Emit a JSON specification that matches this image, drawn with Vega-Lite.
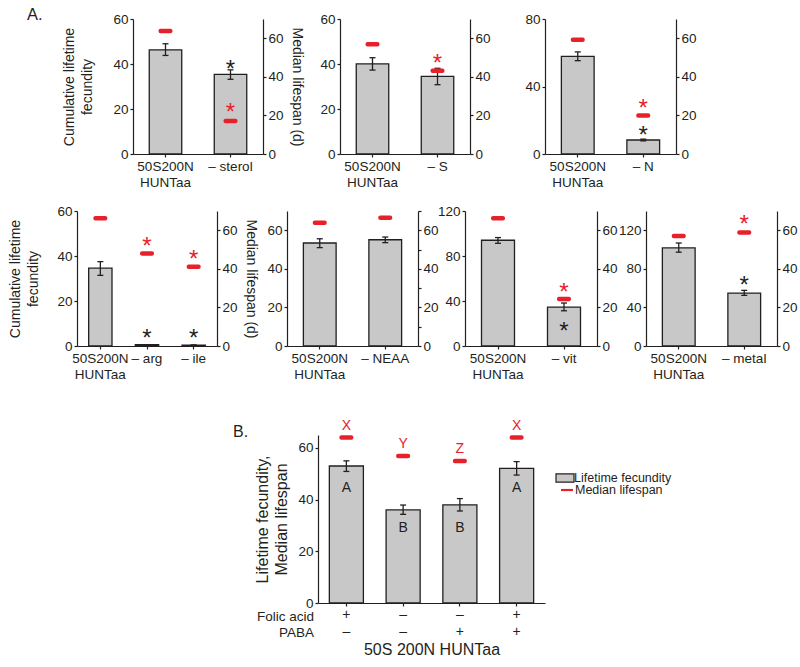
{
 "$schema": "https://vega.github.io/schema/vega-lite/v6.json",
 "background": "white",
 "padding": {"left": 8, "top": 6, "right": 2, "bottom": 2},
 "spacing": 0,
 "resolve": {"scale": {"fill": "independent", "color": "independent"}, "legend": {"fill": "independent", "color": "independent"}},
 "config": {
  "view": {"stroke": null},
  "font": "Liberation Sans",
  "axis": {"grid": false, "domainColor": "#231f20", "tickColor": "#231f20", "labelColor": "#231f20", "titleColor": "#231f20", "labelFontSize": 13.5, "titleFontSize": 14, "titleFontWeight": "normal", "tickSize": 3, "labelPadding": 2, "domainWidth": 1.2, "tickWidth": 1.2, "labelOverlap": false},
  "tick": {"opacity": 1},
  "legend": {"labelFontSize": 12.5, "labelColor": "#231f20"}
 },
 "vconcat": [
  {"hconcat": [
   {"width": 56, "height": 185, "data": {"values": [{}]}, "mark": {"type": "point", "opacity": 0},
    "title": {"text": "A.", "anchor": "start", "frame": "group", "fontSize": 16.5, "fontWeight": "normal", "color": "#231f20", "baseline": "alphabetic", "offset": 0, "dx": -50, "dy": 17}},
   {
    "width": 130, "height": 135,
    "data": {"values": [
     {"c": "50S200N|HUNTaa", "fec": 46.3, "lo": 43.8, "hi": 49.0, "med": 63.8},
     {"c": "– sterol", "fec": 35.4, "lo": 33.2, "hi": 37.4, "med": 17.1, "bstar": 40.2, "rstar": 24.5}
    ]},
    "layer": [
     {"layer": [
      {"mark": {"type": "bar", "fill": "#c8c8c8", "stroke": "#231f20", "strokeWidth": 1.3},
       "encoding": {
        "x": {"field": "c", "type": "nominal", "sort": null, "scale": {"paddingInner": 0.5, "paddingOuter": 0.25}, "axis": {"title": null, "labelAngle": 0, "labelExpr": "split(datum.label, '|')", "labelLineHeight": 16, "labelPadding": 2, "labelBaseline": "top"}},
        "y": {"field": "fec", "type": "quantitative", "scale": {"domain": [0, 60], "nice": false}, "axis": {"values": [0, 10, 20, 30, 40, 50, 60], "labelExpr": "datum.value % 20 === 0 ? datum.label : ''", "title": ["Cumulative lifetime", "fecundity"], "titlePadding": 18, "titleLineHeight": 18}}
       }},
      {"mark": {"type": "rule", "color": "#231f20", "strokeWidth": 1.3},
       "encoding": {"x": {"field": "c", "type": "nominal", "sort": null}, "y": {"field": "lo", "type": "quantitative"}, "y2": {"field": "hi"}}},
      {"transform": [{"fold": ["lo", "hi"], "as": ["k", "v"]}],
       "mark": {"type": "tick", "color": "#231f20", "thickness": 1.3, "size": 6, "opacity": 1},
       "encoding": {"x": {"field": "c", "type": "nominal", "sort": null}, "y": {"field": "v", "type": "quantitative"}}},
      {"transform": [{"filter": "isValid(datum.bstar)"}],
       "mark": {"type": "text", "text": "*", "fontSize": 24, "baseline": "alphabetic", "dy": 13, "color": "#231f20"},
       "encoding": {"x": {"field": "c", "type": "nominal", "sort": null}, "y": {"field": "bstar", "type": "quantitative"}}}
     ]},
     {"layer": [
      {"mark": {"type": "tick", "color": "#e8202a", "thickness": 4.5, "size": 14, "cornerRadius": 2, "opacity": 1},
       "encoding": {"x": {"field": "c", "type": "nominal", "sort": null},
        "y": {"field": "med", "type": "quantitative", "scale": {"domain": [0, 70], "nice": false}, "axis": {"orient": "right", "values": [0, 10, 20, 30, 40, 50, 60, 70], "labelExpr": "datum.value % 20 === 0 ? datum.label : ''", "title": "Median lifespan (d)", "titlePadding": 6}}}},
      {"transform": [{"filter": "isValid(datum.rstar)"}],
       "mark": {"type": "text", "text": "*", "fontSize": 24, "baseline": "alphabetic", "dy": 13, "color": "#e8202a"},
       "encoding": {"x": {"field": "c", "type": "nominal", "sort": null}, "y": {"field": "rstar", "type": "quantitative"}}}
     ]}
    ],
    "resolve": {"scale": {"y": "independent"}}
   },
   {"width": 77, "height": 1, "data": {"values": [{}]}, "mark": {"type": "point", "opacity": 0}},
   {
    "width": 130, "height": 135,
    "data": {"values": [
     {"c": "50S200N|HUNTaa", "fec": 40.1, "lo": 37.3, "hi": 42.8, "med": 56.9},
     {"c": "– S", "fec": 34.5, "lo": 30.8, "hi": 38.1, "med": 43.2, "rstar": 49.7}
    ]},
    "layer": [
     {"layer": [
      {"mark": {"type": "bar", "fill": "#c8c8c8", "stroke": "#231f20", "strokeWidth": 1.3},
       "encoding": {
        "x": {"field": "c", "type": "nominal", "sort": null, "scale": {"paddingInner": 0.5, "paddingOuter": 0.25}, "axis": {"title": null, "labelAngle": 0, "labelExpr": "split(datum.label, '|')", "labelLineHeight": 16, "labelPadding": 2, "labelBaseline": "top"}},
        "y": {"field": "fec", "type": "quantitative", "scale": {"domain": [0, 60], "nice": false}, "axis": {"values": [0, 10, 20, 30, 40, 50, 60], "labelExpr": "datum.value % 20 === 0 ? datum.label : ''", "title": null}}
       }},
      {"mark": {"type": "rule", "color": "#231f20", "strokeWidth": 1.3},
       "encoding": {"x": {"field": "c", "type": "nominal", "sort": null}, "y": {"field": "lo", "type": "quantitative"}, "y2": {"field": "hi"}}},
      {"transform": [{"fold": ["lo", "hi"], "as": ["k", "v"]}],
       "mark": {"type": "tick", "color": "#231f20", "thickness": 1.3, "size": 6, "opacity": 1},
       "encoding": {"x": {"field": "c", "type": "nominal", "sort": null}, "y": {"field": "v", "type": "quantitative"}}}
     ]},
     {"layer": [
      {"mark": {"type": "tick", "color": "#e8202a", "thickness": 4.5, "size": 14, "cornerRadius": 2, "opacity": 1},
       "encoding": {"x": {"field": "c", "type": "nominal", "sort": null},
        "y": {"field": "med", "type": "quantitative", "scale": {"domain": [0, 70], "nice": false}, "axis": {"orient": "right", "values": [0, 10, 20, 30, 40, 50, 60, 70], "labelExpr": "datum.value % 20 === 0 ? datum.label : ''", "title": null}}}},
      {"transform": [{"filter": "isValid(datum.rstar)"}],
       "mark": {"type": "text", "text": "*", "fontSize": 24, "baseline": "alphabetic", "dy": 13, "color": "#e8202a"},
       "encoding": {"x": {"field": "c", "type": "nominal", "sort": null}, "y": {"field": "rstar", "type": "quantitative"}}}
     ]}
    ],
    "resolve": {"scale": {"y": "independent"}}
   },
   {"width": 75, "height": 1, "data": {"values": [{}]}, "mark": {"type": "point", "opacity": 0}},
   {
    "width": 131, "height": 135,
    "data": {"values": [
     {"c": "50S200N|HUNTaa", "fec": 57.9, "lo": 55.3, "hi": 60.5, "med": 59.3},
     {"c": "– N", "fec": 8.3, "lo": 7.8, "hi": 8.8, "med": 20.0, "bstar": 14.4, "rstar": 26.4}
    ]},
    "layer": [
     {"layer": [
      {"mark": {"type": "bar", "fill": "#c8c8c8", "stroke": "#231f20", "strokeWidth": 1.3},
       "encoding": {
        "x": {"field": "c", "type": "nominal", "sort": null, "scale": {"paddingInner": 0.5, "paddingOuter": 0.25}, "axis": {"title": null, "labelAngle": 0, "labelExpr": "split(datum.label, '|')", "labelLineHeight": 16, "labelPadding": 2, "labelBaseline": "top"}},
        "y": {"field": "fec", "type": "quantitative", "scale": {"domain": [0, 80], "nice": false}, "axis": {"values": [0, 10, 20, 30, 40, 50, 60, 70, 80], "labelExpr": "datum.value % 20 === 0 ? datum.label : ''", "title": null}}
       }},
      {"mark": {"type": "rule", "color": "#231f20", "strokeWidth": 1.3},
       "encoding": {"x": {"field": "c", "type": "nominal", "sort": null}, "y": {"field": "lo", "type": "quantitative"}, "y2": {"field": "hi"}}},
      {"transform": [{"fold": ["lo", "hi"], "as": ["k", "v"]}],
       "mark": {"type": "tick", "color": "#231f20", "thickness": 1.3, "size": 6, "opacity": 1},
       "encoding": {"x": {"field": "c", "type": "nominal", "sort": null}, "y": {"field": "v", "type": "quantitative"}}},
      {"transform": [{"filter": "isValid(datum.bstar)"}],
       "mark": {"type": "text", "text": "*", "fontSize": 24, "baseline": "alphabetic", "dy": 13, "color": "#231f20"},
       "encoding": {"x": {"field": "c", "type": "nominal", "sort": null}, "y": {"field": "bstar", "type": "quantitative"}}}
     ]},
     {"layer": [
      {"mark": {"type": "tick", "color": "#e8202a", "thickness": 4.5, "size": 14, "cornerRadius": 2, "opacity": 1},
       "encoding": {"x": {"field": "c", "type": "nominal", "sort": null},
        "y": {"field": "med", "type": "quantitative", "scale": {"domain": [0, 70], "nice": false}, "axis": {"orient": "right", "values": [0, 10, 20, 30, 40, 50, 60, 70], "labelExpr": "datum.value % 20 === 0 ? datum.label : ''", "title": null}}}},
      {"transform": [{"filter": "isValid(datum.rstar)"}],
       "mark": {"type": "text", "text": "*", "fontSize": 24, "baseline": "alphabetic", "dy": 13, "color": "#e8202a"},
       "encoding": {"x": {"field": "c", "type": "nominal", "sort": null}, "y": {"field": "rstar", "type": "quantitative"}}}
     ]}
    ],
    "resolve": {"scale": {"y": "independent"}}
   }
  ], "spacing": 0, "bounds": "flush"},

  {"hconcat": [
   {
    "width": 140, "height": 135,
    "data": {"values": [
     {"c": "50S200N|HUNTaa", "fec": 34.6, "lo": 31.4, "hi": 37.5, "med": 66.2},
     {"c": "– arg", "fec": 0.6, "lo": 0.6, "hi": 0.6, "med": 48.0, "bstar": 5.9, "rstar": 54.6},
     {"c": "– ile", "fec": 0.4, "lo": 0.4, "hi": 0.4, "med": 41.1, "bstar": 5.9, "rstar": 47.5}
    ]},
    "layer": [
     {"layer": [
      {"mark": {"type": "bar", "fill": "#c8c8c8", "stroke": "#231f20", "strokeWidth": 1.3},
       "encoding": {
        "x": {"field": "c", "type": "nominal", "sort": null, "scale": {"paddingInner": 0.5, "paddingOuter": 0.25}, "axis": {"title": null, "labelAngle": 0, "labelExpr": "split(datum.label, '|')", "labelLineHeight": 16, "labelPadding": 2, "labelBaseline": "top"}},
        "y": {"field": "fec", "type": "quantitative", "scale": {"domain": [0, 60], "nice": false}, "axis": {"values": [0, 10, 20, 30, 40, 50, 60], "labelExpr": "datum.value % 20 === 0 ? datum.label : ''", "title": ["Cumulative lifetime", "fecundity"], "titlePadding": 16, "titleLineHeight": 18}}
       }},
      {"mark": {"type": "rule", "color": "#231f20", "strokeWidth": 1.3},
       "encoding": {"x": {"field": "c", "type": "nominal", "sort": null}, "y": {"field": "lo", "type": "quantitative"}, "y2": {"field": "hi"}}},
      {"transform": [{"fold": ["lo", "hi"], "as": ["k", "v"]}],
       "mark": {"type": "tick", "color": "#231f20", "thickness": 1.3, "size": 6, "opacity": 1},
       "encoding": {"x": {"field": "c", "type": "nominal", "sort": null}, "y": {"field": "v", "type": "quantitative"}}},
      {"transform": [{"filter": "isValid(datum.bstar)"}],
       "mark": {"type": "text", "text": "*", "fontSize": 24, "baseline": "alphabetic", "dy": 13, "color": "#231f20"},
       "encoding": {"x": {"field": "c", "type": "nominal", "sort": null}, "y": {"field": "bstar", "type": "quantitative"}}}
     ]},
     {"layer": [
      {"mark": {"type": "tick", "color": "#e8202a", "thickness": 4.5, "size": 14, "cornerRadius": 2, "opacity": 1},
       "encoding": {"x": {"field": "c", "type": "nominal", "sort": null},
        "y": {"field": "med", "type": "quantitative", "scale": {"domain": [0, 70], "nice": false}, "axis": {"orient": "right", "values": [0, 10, 20, 30, 40, 50, 60, 70], "labelExpr": "datum.value % 20 === 0 ? datum.label : ''", "title": "Median lifespan (d)", "titlePadding": 6}}}},
      {"transform": [{"filter": "isValid(datum.rstar)"}],
       "mark": {"type": "text", "text": "*", "fontSize": 24, "baseline": "alphabetic", "dy": 13, "color": "#e8202a"},
       "encoding": {"x": {"field": "c", "type": "nominal", "sort": null}, "y": {"field": "rstar", "type": "quantitative"}}}
     ]}
    ],
    "resolve": {"scale": {"y": "independent"}}
   },
   {"width": 70, "height": 207, "data": {"values": [{}]}, "mark": {"type": "point", "opacity": 0}},
   {
    "width": 131, "height": 135,
    "data": {"values": [
     {"c": "50S200N|HUNTaa", "fec": 53.4, "lo": 51.0, "hi": 55.6, "med": 63.9},
     {"c": "– NEAA", "fec": 55.1, "lo": 53.6, "hi": 56.5, "med": 66.5}
    ]},
    "layer": [
     {"layer": [
      {"mark": {"type": "bar", "fill": "#c8c8c8", "stroke": "#231f20", "strokeWidth": 1.3},
       "encoding": {
        "x": {"field": "c", "type": "nominal", "sort": null, "scale": {"paddingInner": 0.5, "paddingOuter": 0.25}, "axis": {"title": null, "labelAngle": 0, "labelExpr": "split(datum.label, '|')", "labelLineHeight": 16, "labelPadding": 2, "labelBaseline": "top"}},
        "y": {"field": "fec", "type": "quantitative", "scale": {"domain": [0, 70], "nice": false}, "axis": {"values": [0, 10, 20, 30, 40, 50, 60, 70], "labelExpr": "datum.value % 20 === 0 ? datum.label : ''", "title": null}}
       }},
      {"mark": {"type": "rule", "color": "#231f20", "strokeWidth": 1.3},
       "encoding": {"x": {"field": "c", "type": "nominal", "sort": null}, "y": {"field": "lo", "type": "quantitative"}, "y2": {"field": "hi"}}},
      {"transform": [{"fold": ["lo", "hi"], "as": ["k", "v"]}],
       "mark": {"type": "tick", "color": "#231f20", "thickness": 1.3, "size": 6, "opacity": 1},
       "encoding": {"x": {"field": "c", "type": "nominal", "sort": null}, "y": {"field": "v", "type": "quantitative"}}}
     ]},
     {"layer": [
      {"mark": {"type": "tick", "color": "#e8202a", "thickness": 4.5, "size": 14, "cornerRadius": 2, "opacity": 1},
       "encoding": {"x": {"field": "c", "type": "nominal", "sort": null},
        "y": {"field": "med", "type": "quantitative", "scale": {"domain": [0, 70], "nice": false}, "axis": {"orient": "right", "values": [0, 10, 20, 30, 40, 50, 60, 70], "labelExpr": "datum.value % 20 === 0 ? datum.label : ''", "title": null}}}}
     ]}
    ],
    "resolve": {"scale": {"y": "independent"}}
   },
   {"width": 47, "height": 1, "data": {"values": [{}]}, "mark": {"type": "point", "opacity": 0}},
   {
    "width": 132, "height": 135,
    "data": {"values": [
     {"c": "50S200N|HUNTaa", "fec": 94.0, "lo": 91.3, "hi": 96.4, "med": 66.2},
     {"c": "– vit", "fec": 34.6, "lo": 31.3, "hi": 38.2, "med": 24.4, "bstar": 17.9, "rstar": 30.7}
    ]},
    "layer": [
     {"layer": [
      {"mark": {"type": "bar", "fill": "#c8c8c8", "stroke": "#231f20", "strokeWidth": 1.3},
       "encoding": {
        "x": {"field": "c", "type": "nominal", "sort": null, "scale": {"paddingInner": 0.5, "paddingOuter": 0.25}, "axis": {"title": null, "labelAngle": 0, "labelExpr": "split(datum.label, '|')", "labelLineHeight": 16, "labelPadding": 2, "labelBaseline": "top"}},
        "y": {"field": "fec", "type": "quantitative", "scale": {"domain": [0, 120], "nice": false}, "axis": {"values": [0, 20, 40, 60, 80, 100, 120], "labelExpr": "datum.value % 40 === 0 ? datum.label : ''", "title": null}}
       }},
      {"mark": {"type": "rule", "color": "#231f20", "strokeWidth": 1.3},
       "encoding": {"x": {"field": "c", "type": "nominal", "sort": null}, "y": {"field": "lo", "type": "quantitative"}, "y2": {"field": "hi"}}},
      {"transform": [{"fold": ["lo", "hi"], "as": ["k", "v"]}],
       "mark": {"type": "tick", "color": "#231f20", "thickness": 1.3, "size": 6, "opacity": 1},
       "encoding": {"x": {"field": "c", "type": "nominal", "sort": null}, "y": {"field": "v", "type": "quantitative"}}},
      {"transform": [{"filter": "isValid(datum.bstar)"}],
       "mark": {"type": "text", "text": "*", "fontSize": 24, "baseline": "alphabetic", "dy": 13, "color": "#231f20"},
       "encoding": {"x": {"field": "c", "type": "nominal", "sort": null}, "y": {"field": "bstar", "type": "quantitative"}}}
     ]},
     {"layer": [
      {"mark": {"type": "tick", "color": "#e8202a", "thickness": 4.5, "size": 14, "cornerRadius": 2, "opacity": 1},
       "encoding": {"x": {"field": "c", "type": "nominal", "sort": null},
        "y": {"field": "med", "type": "quantitative", "scale": {"domain": [0, 70], "nice": false}, "axis": {"orient": "right", "values": [0, 10, 20, 30, 40, 50, 60, 70], "labelExpr": "datum.value % 20 === 0 ? datum.label : ''", "title": null}}}},
      {"transform": [{"filter": "isValid(datum.rstar)"}],
       "mark": {"type": "text", "text": "*", "fontSize": 24, "baseline": "alphabetic", "dy": 13, "color": "#e8202a"},
       "encoding": {"x": {"field": "c", "type": "nominal", "sort": null}, "y": {"field": "rstar", "type": "quantitative"}}}
     ]}
    ],
    "resolve": {"scale": {"y": "independent"}}
   },
   {"width": 49, "height": 1, "data": {"values": [{}]}, "mark": {"type": "point", "opacity": 0}},
   {
    "width": 131, "height": 135,
    "data": {"values": [
     {"c": "50S200N|HUNTaa", "fec": 101.8, "lo": 97.3, "hi": 106.8, "med": 57.1},
     {"c": "– metal", "fec": 54.9, "lo": 52.5, "hi": 57.7, "med": 58.9, "bstar": 68.2, "rstar": 65.7}
    ]},
    "layer": [
     {"layer": [
      {"mark": {"type": "bar", "fill": "#c8c8c8", "stroke": "#231f20", "strokeWidth": 1.3},
       "encoding": {
        "x": {"field": "c", "type": "nominal", "sort": null, "scale": {"paddingInner": 0.5, "paddingOuter": 0.25}, "axis": {"title": null, "labelAngle": 0, "labelExpr": "split(datum.label, '|')", "labelLineHeight": 16, "labelPadding": 2, "labelBaseline": "top"}},
        "y": {"field": "fec", "type": "quantitative", "scale": {"domain": [0, 140], "nice": false}, "axis": {"values": [0, 20, 40, 60, 80, 100, 120, 140], "labelExpr": "datum.value % 40 === 0 ? datum.label : ''", "title": null}}
       }},
      {"mark": {"type": "rule", "color": "#231f20", "strokeWidth": 1.3},
       "encoding": {"x": {"field": "c", "type": "nominal", "sort": null}, "y": {"field": "lo", "type": "quantitative"}, "y2": {"field": "hi"}}},
      {"transform": [{"fold": ["lo", "hi"], "as": ["k", "v"]}],
       "mark": {"type": "tick", "color": "#231f20", "thickness": 1.3, "size": 6, "opacity": 1},
       "encoding": {"x": {"field": "c", "type": "nominal", "sort": null}, "y": {"field": "v", "type": "quantitative"}}},
      {"transform": [{"filter": "isValid(datum.bstar)"}],
       "mark": {"type": "text", "text": "*", "fontSize": 24, "baseline": "alphabetic", "dy": 13, "color": "#231f20"},
       "encoding": {"x": {"field": "c", "type": "nominal", "sort": null}, "y": {"field": "bstar", "type": "quantitative"}}}
     ]},
     {"layer": [
      {"mark": {"type": "tick", "color": "#e8202a", "thickness": 4.5, "size": 14, "cornerRadius": 2, "opacity": 1},
       "encoding": {"x": {"field": "c", "type": "nominal", "sort": null},
        "y": {"field": "med", "type": "quantitative", "scale": {"domain": [0, 70], "nice": false}, "axis": {"orient": "right", "values": [0, 10, 20, 30, 40, 50, 60, 70], "labelExpr": "datum.value % 20 === 0 ? datum.label : ''", "title": null}}}},
      {"transform": [{"filter": "isValid(datum.rstar)"}],
       "mark": {"type": "text", "text": "*", "fontSize": 24, "baseline": "alphabetic", "dy": 13, "color": "#e8202a"},
       "encoding": {"x": {"field": "c", "type": "nominal", "sort": null}, "y": {"field": "rstar", "type": "quantitative"}}}
     ]}
    ],
    "resolve": {"scale": {"y": "independent"}}
   }
  ], "spacing": 0, "bounds": "flush"},

  {"hconcat": [
   {"width": 156, "height": 168, "data": {"values": [{}]}, "mark": {"type": "point", "opacity": 0},
    "title": {"text": ["Folic acid", "PABA"], "orient": "bottom", "anchor": "end", "frame": "group", "align": "right", "fontSize": 13.5, "fontWeight": "normal", "color": "#231f20", "baseline": "top", "lineHeight": 16.6, "offset": 0, "dx": 81, "dy": 6.5}},
   {"width": 85, "height": 1, "data": {"values": [{}]}, "mark": {"type": "point", "opacity": 0},
    "title": {"text": "B.", "anchor": "start", "frame": "group", "fontSize": 16, "fontWeight": "normal", "color": "#231f20", "baseline": "alphabetic", "offset": 0, "dx": 0, "dy": 20}},
   {
    "width": 227, "height": 168,
    "data": {"values": [
     {"c": "+|–", "fec": 53.0, "lo": 50.9, "hi": 55.0, "med": 64.0, "g": "A", "gy": 44.6, "m": "X"},
     {"c": "–|–", "fec": 36.0, "lo": 34.3, "hi": 37.9, "med": 56.9, "g": "B", "gy": 29.0, "m": "Y"},
     {"c": "–|+", "fec": 38.0, "lo": 35.6, "hi": 40.4, "med": 54.9, "g": "B", "gy": 29.0, "m": "Z"},
     {"c": "+|+", "fec": 52.1, "lo": 49.5, "hi": 54.7, "med": 64.0, "g": "A", "gy": 44.6, "m": "X"}
    ]},
    "layer": [
     {"layer": [
      {"mark": {"type": "bar", "stroke": "#231f20", "strokeWidth": 1.3},
       "encoding": {
        "x": {"field": "c", "type": "nominal", "sort": null, "scale": {"paddingInner": 0.4, "paddingOuter": 0.2}, "axis": {"title": "50S 200N HUNTaa", "titleFontSize": 16, "titlePadding": 3, "labelExpr": "split(datum.label, '|')", "labelAngle": 0, "labelFontSize": 14, "labelLineHeight": 16.6, "labelPadding": 1.5, "labelBaseline": "top"}},
        "y": {"field": "fec", "type": "quantitative", "scale": {"domain": [0, 65], "nice": false}, "axis": {"values": [0, 10, 20, 30, 40, 50, 60], "labelExpr": "datum.value % 10 === 0 ? datum.label : ''", "title": ["Lifetime fecundity,", "Median lifespan"], "titleFontSize": 16, "titleLineHeight": 19, "titlePadding": 8, "labelOverlap": false, "labelBound": false, "labelSeparation": -30}},
        "fill": {"datum": "Lifetime fecundity", "type": "nominal", "scale": {"range": ["#c8c8c8"]}, "legend": {"title": null, "orient": "none", "legendX": 237, "legendY": 33, "symbolType": "M-1,-0.45H1V0.45H-1Z", "symbolSize": 324, "symbolStrokeColor": "#231f20", "symbolStrokeWidth": 1.2, "labelOffset": -1, "padding": 0}}
       }},
      {"mark": {"type": "rule", "color": "#231f20", "strokeWidth": 1.3},
       "encoding": {"x": {"field": "c", "type": "nominal", "sort": null}, "y": {"field": "lo", "type": "quantitative"}, "y2": {"field": "hi"}}},
      {"transform": [{"fold": ["lo", "hi"], "as": ["k", "v"]}],
       "mark": {"type": "tick", "color": "#231f20", "thickness": 1.3, "size": 6, "opacity": 1},
       "encoding": {"x": {"field": "c", "type": "nominal", "sort": null}, "y": {"field": "v", "type": "quantitative"}}},
      {"mark": {"type": "text", "baseline": "middle", "fontSize": 14, "color": "#231f20"},
       "encoding": {"x": {"field": "c", "type": "nominal", "sort": null}, "y": {"field": "gy", "type": "quantitative"}, "text": {"field": "g"}}}
     ]},
     {"layer": [
      {"mark": {"type": "tick", "thickness": 4.5, "size": 14, "cornerRadius": 2, "opacity": 1},
       "encoding": {"x": {"field": "c", "type": "nominal", "sort": null},
        "y": {"field": "med", "type": "quantitative", "scale": {"domain": [0, 65], "nice": false}, "axis": null},
        "color": {"datum": "Median lifespan", "type": "nominal", "scale": {"range": ["#e8202a"]}, "legend": {"title": null, "orient": "none", "legendX": 242, "legendY": 48, "symbolType": "M-1,-0.18H1V0.18H-1Z", "symbolSize": 144, "symbolOpacity": 1, "labelOffset": 1, "padding": 0}}}},
      {"mark": {"type": "text", "baseline": "alphabetic", "dy": -8, "fontSize": 14, "color": "#e8202a"},
       "encoding": {"x": {"field": "c", "type": "nominal", "sort": null}, "y": {"field": "med", "type": "quantitative"}, "text": {"field": "m"}}}
     ]}
    ],
    "resolve": {"scale": {"y": "independent"}}
   }
  ], "spacing": 0, "bounds": "flush", "resolve": {"scale": {"fill": "independent", "color": "independent"}, "legend": {"fill": "independent", "color": "independent"}}}
 ]
}
